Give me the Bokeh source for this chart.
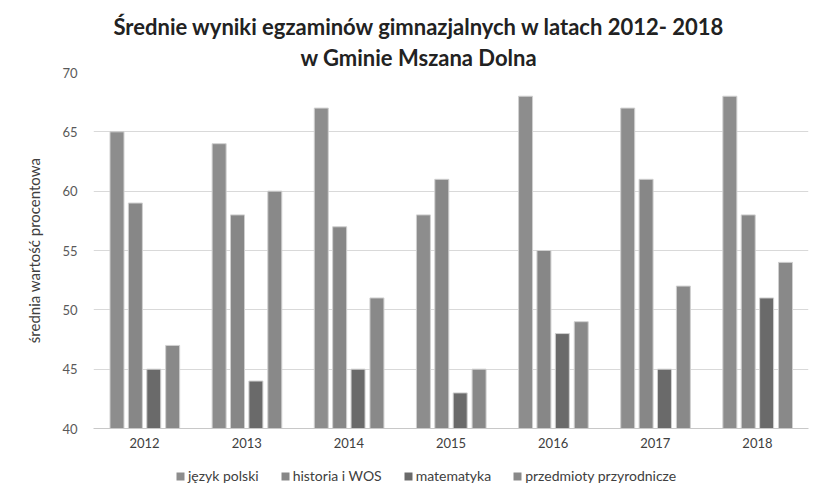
from bokeh.plotting import figure
from bokeh.layouts import column
from bokeh.models import FactorRange, Range1d, Legend, LegendItem, Title, ColumnDataSource, SingleIntervalTicker
from bokeh.transform import dodge
from bokeh.embed import file_html
from bokeh.resources import INLINE

years = ["2012", "2013", "2014", "2015", "2016", "2017", "2018"]
series_names = ["język polski", "historia i WOS", "matematyka", "przedmioty przyrodnicze"]
jezyk_polski = [65, 64, 67, 58, 68, 67, 68]
historia_wos = [59, 58, 57, 61, 55, 61, 58]
matematyka = [45, 44, 45, 43, 48, 45, 51]
przyrodnicze = [47, 60, 51, 45, 49, 52, 54]
title_lines = ["Średnie wyniki egzaminów gimnazjalnych w latach 2012- 2018", "w Gminie Mszana Dolna"]
y_label = "średnia wartość procentowa"

colors = ["#8d8d8d", "#878787", "#6a6a6a", "#898989"]
offsets = [-0.27, -0.09, 0.09, 0.275]
FONT = "Lato"

src = ColumnDataSource(dict(year=years, s0=jezyk_polski, s1=historia_wos, s2=matematyka, s3=przyrodnicze))

W = 816
p = figure(width=W, height=458, x_range=FactorRange(*years, range_padding=0),
           y_range=Range1d(40, 70), output_backend="svg", toolbar_location=None,
           min_border_left=93, min_border_right=8, min_border_top=72, min_border_bottom=30)
p.outline_line_color = None

for i, key in enumerate(["s0", "s1", "s2", "s3"]):
    p.vbar(x=dodge("year", offsets[i], range=p.x_range), top=key, bottom=40, width=0.137,
           source=src, fill_color=colors[i], line_color="#d0d0d0", line_width=1)

# two-line title (added nearest-frame first)
p.add_layout(Title(text=title_lines[1], align="left", offset=207, text_font=FONT,
                   text_font_style="bold", text_font_size="22px", text_color="#222222",
                   standoff=4), "above")
p.add_layout(Title(text=title_lines[0], align="left", offset=20, text_font=FONT,
                   text_font_style="bold", text_font_size="22px", text_color="#222222",
                   standoff=0), "above")

p.yaxis.ticker = SingleIntervalTicker(interval=5)
p.yaxis.axis_line_color = None
p.yaxis.major_tick_line_color = None
p.yaxis.minor_tick_line_color = None
p.yaxis.major_label_text_font = FONT
p.yaxis.major_label_text_font_size = "13px"
p.yaxis.major_label_text_color = "#595959"
p.yaxis.major_label_standoff = 10
p.yaxis.axis_label = y_label
p.yaxis.axis_label_text_font = FONT
p.yaxis.axis_label_text_font_style = "normal"
p.yaxis.axis_label_text_font_size = "15px"
p.yaxis.axis_label_text_color = "#404040"
p.yaxis.axis_label_standoff = 16

p.xaxis.axis_line_color = "#c8c8c8"
p.xaxis.major_tick_line_color = None
p.xaxis.minor_tick_line_color = None
p.xaxis.major_label_text_font = FONT
p.xaxis.major_label_text_font_size = "13px"
p.xaxis.major_label_text_color = "#404040"
p.xaxis.major_label_standoff = 3

p.xgrid.grid_line_color = None
p.ygrid.grid_line_color = "#d9d9d9"

# legend strip (swatch renderers hold a single point outside the visible range)
lf = figure(width=W, height=32, x_range=Range1d(0, 1), y_range=Range1d(0, 1),
            output_backend="svg", toolbar_location=None,
            min_border_left=0, min_border_right=0, min_border_top=0, min_border_bottom=0)
lf.axis.visible = False
lf.grid.visible = False
lf.outline_line_color = None
lrs = [lf.vbar(x=[-5], top=[-5], bottom=[-6], width=0.1, fill_color=c, line_color=None)
       for c in colors]
legend = Legend(items=[LegendItem(label=n, renderers=[r]) for n, r in zip(series_names, lrs)],
                orientation="horizontal", location=(82, 6), border_line_color=None,
                background_fill_alpha=0, label_text_font=FONT, label_text_font_size="14px",
                label_text_color="#404040", glyph_width=10, glyph_height=10, spacing=21,
                label_standoff=3, padding=0, margin=0)
lf.add_layout(legend, "center")

open("out.html", "w").write(file_html(column(p, lf, spacing=0), INLINE))
